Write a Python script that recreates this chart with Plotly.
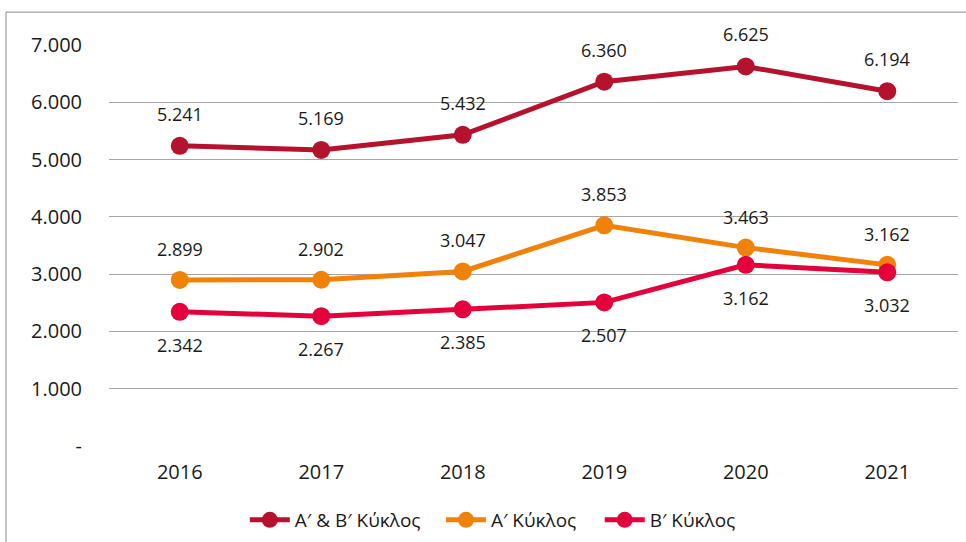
import plotly.graph_objects as go

years = [2016, 2017, 2018, 2019, 2020, 2021]
total = [5241, 5169, 5432, 6360, 6625, 6194]
cycle_a = [2899, 2902, 3047, 3853, 3463, 3162]
cycle_b = [2342, 2267, 2385, 2507, 3162, 3032]
label_total = ["5.241", "5.169", "5.432", "6.360", "6.625", "6.194"]
label_a = ["2.899", "2.902", "3.047", "3.853", "3.463", "3.162"]
label_b = ["2.342", "2.267", "2.385", "2.507", "3.162", "3.032"]
tick_vals = [0, 1000, 2000, 3000, 4000, 5000, 6000, 7000]
tick_text = ["-", "1.000", "2.000", "3.000", "4.000", "5.000", "6.000", "7.000"]

names = ["Α′ & Β′ Κύκλος", "Α′ Κύκλος", "Β′ Κύκλος"]
colors = ["#B5122E", "#F0820A", "#E4003A"]
legend_ids = ["legend", "legend2", "legend3"]
legend_x = [0.160, 0.391, 0.578]
FONT = "Open Sans"
TXT = "#1a1a1a"

fig = go.Figure()
for name, vals, col, lid in zip(names, [total, cycle_a, cycle_b], colors, legend_ids):
    fig.add_trace(go.Scatter(
        x=years, y=vals, name=name, mode="lines+markers",
        line=dict(color=col, width=5),
        marker=dict(color=col, size=18),
        legend=lid,
    ))

annotations = []
for labels, vals, shift in [(label_total, total, 32), (label_a, cycle_a, 31), (label_b, cycle_b, -33)]:
    for x, y, t in zip(years, vals, labels):
        annotations.append(dict(x=x, y=y, xref="x", yref="y", text=t, showarrow=False, yshift=shift,
                                font=dict(family=FONT, size=18, color=TXT)))

legend_style = dict(orientation="h", y=-0.1845, yanchor="middle", xanchor="left",
                    font=dict(family=FONT, size=19, color=TXT), itemwidth=40,
                    bgcolor="rgba(0,0,0,0)")

fig.update_layout(
    width=966, height=542,
    margin=dict(l=109, r=8, t=45, b=96, autoexpand=False),
    paper_bgcolor="white", plot_bgcolor="white",
    font=dict(family=FONT, size=19, color=TXT),
    showlegend=True,
    legend=dict(x=legend_x[0], **legend_style),
    legend2=dict(x=legend_x[1], **legend_style),
    legend3=dict(x=legend_x[2], **legend_style),
    annotations=annotations,
    shapes=[
        dict(type="line", xref="paper", yref="paper", x0=-0.1213, x1=-0.1213, y0=-0.3, y1=1.082,
             line=dict(color="#8C8C8C", width=1)),
        dict(type="line", xref="paper", yref="paper", x0=-0.1213, x1=1.02, y0=1.082, y1=1.082,
             line=dict(color="#8C8C8C", width=1)),
    ],
)
fig.update_xaxes(range=[2015.5, 2021.5], tickvals=years, ticktext=[str(y) for y in years],
                 showgrid=False, showline=False, zeroline=False,
                 ticks="", ticklabelstandoff=12, tickfont=dict(size=20))
fig.update_yaxes(range=[0, 7000], tickvals=tick_vals, ticktext=tick_text,
                 showgrid=True, gridcolor="#A6A6A6", gridwidth=1, zeroline=False,
                 showline=False, ticks="", ticklabelstandoff=26, tickfont=dict(size=20))

fig.write_html("out.html", config=dict(displayModeBar=False),
               post_script="document.body.style.margin='0';document.body.style.overflow='hidden';")
